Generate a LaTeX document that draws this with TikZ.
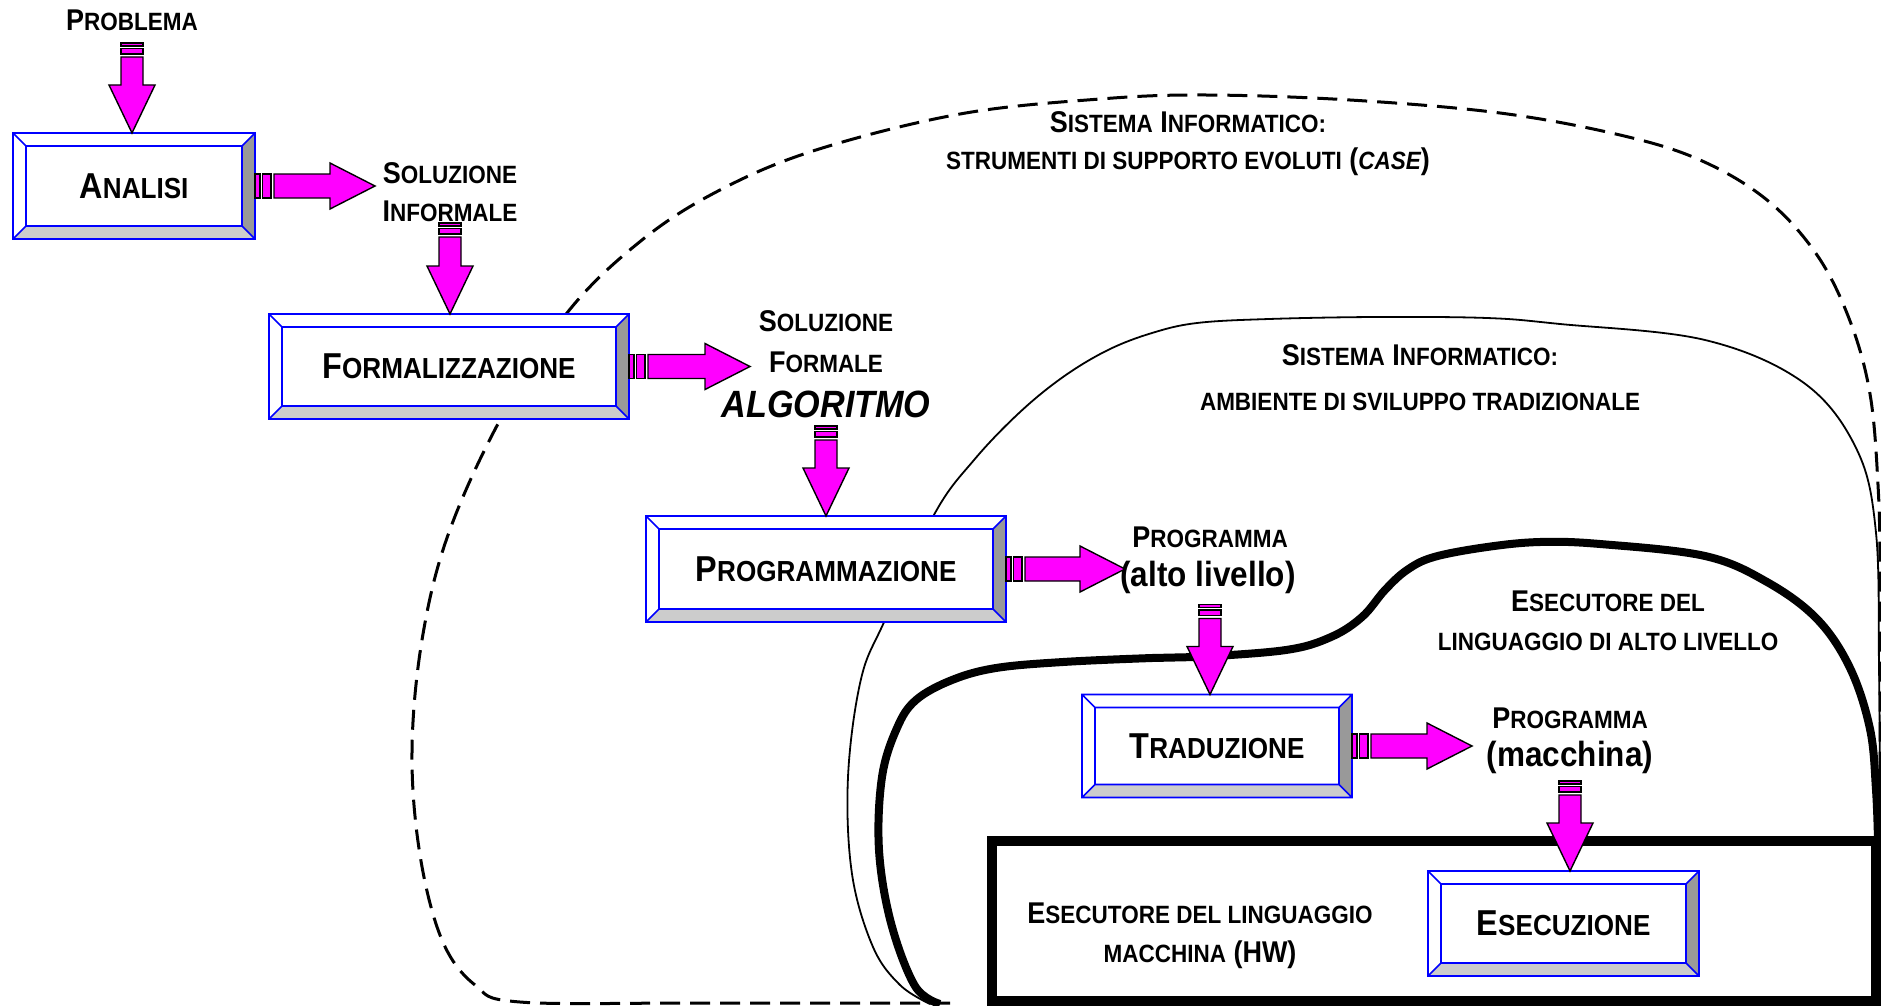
\documentclass[tikz,border=0pt]{standalone}
\usepackage{fontspec}
\setmainfont{Liberation Sans}[FakeStretch=0.9]
\newcommand\bsm[1]{{\fontsize{29}{29}\selectfont #1}}
\newcommand\lsm[1]{{\fontsize{25}{25}\selectfont #1}}
\definecolor{mag}{RGB}{255,0,255}
\definecolor{bevdark}{RGB}{153,153,153}
\definecolor{bevlight}{RGB}{204,204,204}
\tikzset{
  box/.style={draw=blue, fill=white, line width=1.6pt, inner sep=0pt, outer sep=0pt,
    font=\fontsize{36}{36}\selectfont\bfseries},
  lab/.style={inner sep=0pt, font=\fontsize{30}{30}\selectfont\bfseries},
  paren/.style={inner sep=0pt, font=\fontsize{35}{35}\selectfont\bfseries},
  arr/.style={fill=mag, draw=black, line width=1.4pt, line join=miter},
  dashcurve/.style={line width=3pt, dash pattern=on 20pt off 10pt},
  thincurve/.style={line width=1.8pt},
  thickcurve/.style={line width=8pt},
  pics/harrow/.style={code={
    \filldraw[arr] (0,-12) rectangle (5,12);
    \filldraw[arr] (7.5,-12) rectangle (16,12);
    \filldraw[arr] (19,-12) -- (#1-45,-12) -- (#1-45,-23) -- (#1,0) -- (#1-45,23) -- (#1-45,12) -- (19,12) -- cycle;
  }},
  pics/varrow/.style={code={
    \filldraw[arr] (-11,0) rectangle (11,3);
    \filldraw[arr] (-11,5.5) rectangle (11,11);
    \filldraw[arr] (-11,14) -- (-11,#1-48) -- (-23,#1-48) -- (0,#1) -- (23,#1-48) -- (11,#1-48) -- (11,14) -- cycle;
  }},
}
\newcommand\bevel[1]{%
  \fill[bevdark] (#1.north east) -- (#1.south east) -- ([shift={(-13,-13)}]#1.south east) -- ([shift={(-13,13)}]#1.north east) -- cycle;
  \fill[bevlight] (#1.south west) -- (#1.south east) -- ([shift={(-13,-13)}]#1.south east) -- ([shift={(13,-13)}]#1.south west) -- cycle;
  \draw[blue, line width=1.6pt] ([shift={(13,13)}]#1.north west) rectangle ([shift={(-13,-13)}]#1.south east)
    (#1.north west) -- ([shift={(13,13)}]#1.north west)
    (#1.north east) -- ([shift={(-13,13)}]#1.north east)
    (#1.south west) -- ([shift={(13,-13)}]#1.south west)
    (#1.south east) -- ([shift={(-13,-13)}]#1.south east)
    (#1.north west) rectangle (#1.south east);
}
\begin{document}
\begin{tikzpicture}[x=1pt,y=-1pt]
\useasboundingbox (0,0) rectangle (1881,1006);
\fill[white] (0,0) rectangle (1881,1006);

% outer dashed region (CASE)
\draw[dashcurve] plot[smooth, tension=0.6] coordinates {
  (950,1003) (700,1003) (520,1002) (475,985) (442,940) (420,855) (412,752) (422,640)
  (448,535) (500,420) (567,313) (642,240) (720,190) (816,150) (960,114) (1100,99)
  (1206,95) (1350,100) (1500,113) (1620,135) (1700,160) (1767,200) (1817,255)
  (1850,321) (1870,394) (1878,485) (1880,577) (1880,800) (1880,1006)};

% thin region (ambiente tradizionale)
\draw[thincurve] plot[smooth, tension=0.6] coordinates {
  (930,1004) (900,985) (873,947) (852,874) (848,777) (861,679) (885,620) (935,513)
  (974,460) (1019,413) (1063,377) (1108,350) (1152,333) (1197,323) (1269,319)
  (1376,317) (1487,318) (1560,324) (1705,340) (1804,383) (1857,450)
  (1876,533) (1879,667) (1880,800) (1880,1006)};

% thick region (esecutore alto livello)
\draw[thickcurve] plot[smooth, tension=0.6] coordinates {
  (1878,841) (1876,790) (1870,729) (1850,668) (1817,619) (1767,582) (1705,556)
  (1600,544) (1540,542) (1487,547) (1434,557) (1407,570) (1385,590) (1362,617)
  (1331,637) (1286,650) (1197,657) (1152,658) (1063,662) (996,668) (952,680)
  (916,700) (897,728) (882,777) (879,850) (891,923) (915,986) (940,1004)};

% HW box
\draw[line width=10pt] (992,841) rectangle (1876,1001);

% process boxes
\node[box, minimum width=242, minimum height=106] (analisi) at (134,186) {A\bsm{NALISI}};
\bevel{analisi}
\node[box, minimum width=360, minimum height=105] (formal) at (449,366.5) {F\bsm{ORMALIZZAZIONE}};
\bevel{formal}
\node[box, minimum width=360, minimum height=106] (progr) at (826,569) {P\bsm{ROGRAMMAZIONE}};
\bevel{progr}
\node[box, minimum width=270, minimum height=103] (trad) at (1217,746) {T\bsm{RADUZIONE}};
\bevel{trad}
\node[box, minimum width=271, minimum height=105] (esec) at (1563.5,923.5) {E\bsm{SECUZIONE}};
\bevel{esec}

% labels
\node[lab] (tprob) at (132,20) {P\lsm{ROBLEMA}};
\node[lab] (tsol1) at (450,173) {S\lsm{OLUZIONE}};
\node[lab] (tinf) at (450,211) {I\lsm{NFORMALE}};
\node[lab] (tsol2) at (826,321) {S\lsm{OLUZIONE}};
\node[lab] (tform) at (826,362) {F\lsm{ORMALE}};
\node[inner sep=0pt, font=\fontsize{38}{38}\selectfont\bfseries\itshape] (talg) at (826,404) {ALGORITMO};
\node[lab] (tprog1) at (1210,537) {P\lsm{ROGRAMMA}};
\node[paren] (talto) at (1208,577) {(alto livello)};
\node[lab] (tprog2) at (1570,718) {P\lsm{ROGRAMMA}};
\node[paren] (tmacc) at (1570,757) {(macchina)};
\node[lab] (tcase1) at (1188,122) {S\lsm{ISTEMA} I\lsm{NFORMATICO:}};
\node[lab] (tcase2) at (1188,162) {\lsm{STRUMENTI DI SUPPORTO EVOLUTI} (\lsm{\itshape CASE})};
\node[lab] (ttrad1) at (1420,355) {S\lsm{ISTEMA} I\lsm{NFORMATICO:}};
\node[lab] (ttrad2) at (1420,402) {\lsm{AMBIENTE DI SVILUPPO TRADIZIONALE}};
\node[lab] (talto1) at (1608,601) {E\lsm{SECUTORE DEL}};
\node[lab] (talto2) at (1608,642) {\lsm{LINGUAGGIO DI ALTO LIVELLO}};
\node[lab] (thw1) at (1200,913) {E\lsm{SECUTORE DEL LINGUAGGIO}};
\node[lab] (thw2) at (1200,955) {\lsm{MACCHINA} (HW)};

% arrows
\pic at ([xshift=-2pt,yshift=90pt]analisi.north) {varrow=90};
\pic at (analisi.east) {harrow=120};
\pic at ([xshift=1pt,yshift=91pt]formal.north) {varrow=91};
\pic at (formal.east) {harrow=121};
\pic at ([yshift=90pt]progr.north) {varrow=90};
\pic at (progr.east) {harrow=119};
\pic at ([xshift=-7pt,yshift=90pt]trad.north) {varrow=90};
\pic at (trad.east) {harrow=120};
\pic at ([xshift=6.5pt,yshift=90pt]esec.north) {varrow=90};
\end{tikzpicture}
\end{document}
